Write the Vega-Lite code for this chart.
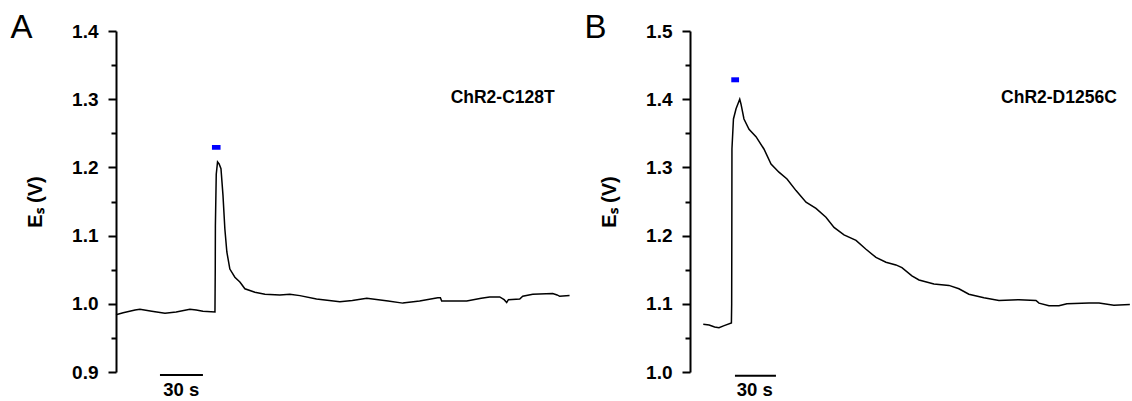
{
  "$schema": "https://vega.github.io/schema/vega-lite/v6.json",
  "background": "white",
  "padding": {"left": 10, "top": 12, "right": 0, "bottom": 0},
  "spacing": 11,
  "config": {
    "view": {"stroke": null},
    "font": "Liberation Sans",
    "axisY": {
      "grid": false,
      "domainColor": "black",
      "domainWidth": 2,
      "tickColor": "black",
      "tickWidth": 2,
      "labelFont": "Liberation Sans",
      "labelFontWeight": "bold",
      "labelFontSize": 19,
      "labelColor": "black",
      "labelPadding": 10,
      "labelOverlap": false,
      "labelBound": false,
      "titleFont": "Liberation Sans",
      "titleFontWeight": "bold",
      "titleFontSize": 20,
      "titleColor": "black",
      "titlePadding": 26
    },
    "title": {
      "anchor": "start",
      "frame": "bounds",
      "font": "Liberation Sans",
      "fontSize": 33,
      "fontWeight": "normal",
      "color": "black",
      "dx": -15,
      "offset": -23
    }
  },
  "datasets": {
    "traceA": [
      {"t": 0, "v": 0.984}, {"t": 5, "v": 0.987}, {"t": 13.3, "v": 0.991}, {"t": 16.7, "v": 0.992},
      {"t": 25, "v": 0.989}, {"t": 34.2, "v": 0.986}, {"t": 42, "v": 0.988}, {"t": 51.6, "v": 0.992},
      {"t": 56, "v": 0.991}, {"t": 60.7, "v": 0.989}, {"t": 69.1, "v": 0.988}, {"t": 69.3, "v": 1.05},
      {"t": 69.4, "v": 1.115}, {"t": 70, "v": 1.19}, {"t": 70.9, "v": 1.208}, {"t": 72, "v": 1.205},
      {"t": 73.3, "v": 1.198}, {"t": 74.7, "v": 1.159}, {"t": 76, "v": 1.11}, {"t": 77.4, "v": 1.076},
      {"t": 79.5, "v": 1.051}, {"t": 83, "v": 1.039}, {"t": 86.5, "v": 1.032}, {"t": 90, "v": 1.022},
      {"t": 97, "v": 1.017}, {"t": 104, "v": 1.014}, {"t": 114.4, "v": 1.013}, {"t": 121.4, "v": 1.014},
      {"t": 128.4, "v": 1.012}, {"t": 140, "v": 1.007}, {"t": 156.3, "v": 1.003}, {"t": 165, "v": 1.005},
      {"t": 175.1, "v": 1.008}, {"t": 190, "v": 1.004}, {"t": 200.2, "v": 1.001}, {"t": 212, "v": 1.004},
      {"t": 224.7, "v": 1.009}, {"t": 226.5, "v": 1.009}, {"t": 227.4, "v": 1.004}, {"t": 244.9, "v": 1.004},
      {"t": 255, "v": 1.008}, {"t": 260.9, "v": 1.01}, {"t": 267.9, "v": 1.01}, {"t": 271, "v": 1.006},
      {"t": 272.8, "v": 1.002}, {"t": 274, "v": 1.006}, {"t": 281.9, "v": 1.007}, {"t": 284, "v": 1.011},
      {"t": 291, "v": 1.014}, {"t": 304.9, "v": 1.015}, {"t": 308, "v": 1.013}, {"t": 309.8, "v": 1.011},
      {"t": 316.7, "v": 1.012}
    ],
    "traceB": [
      {"t": 9.7, "v": 1.07}, {"t": 14, "v": 1.069}, {"t": 18, "v": 1.066}, {"t": 21.2, "v": 1.065},
      {"t": 25, "v": 1.068}, {"t": 30.3, "v": 1.072}, {"t": 30.5, "v": 1.1}, {"t": 30.6, "v": 1.2},
      {"t": 30.7, "v": 1.327}, {"t": 31.8, "v": 1.371}, {"t": 33.7, "v": 1.386}, {"t": 36.4, "v": 1.4},
      {"t": 37.3, "v": 1.393}, {"t": 39.5, "v": 1.371}, {"t": 43.2, "v": 1.356}, {"t": 48.3, "v": 1.345},
      {"t": 54.1, "v": 1.327}, {"t": 59.3, "v": 1.305}, {"t": 65.1, "v": 1.293}, {"t": 71, "v": 1.283},
      {"t": 77.6, "v": 1.266}, {"t": 84.9, "v": 1.249}, {"t": 92.2, "v": 1.24}, {"t": 99.5, "v": 1.227},
      {"t": 105.4, "v": 1.212}, {"t": 112.7, "v": 1.201}, {"t": 121.5, "v": 1.193}, {"t": 128.8, "v": 1.18},
      {"t": 136.1, "v": 1.168}, {"t": 143.4, "v": 1.161}, {"t": 150.7, "v": 1.157}, {"t": 155.1, "v": 1.153},
      {"t": 162.4, "v": 1.141}, {"t": 167.6, "v": 1.135}, {"t": 178.5, "v": 1.129}, {"t": 189.5, "v": 1.127},
      {"t": 196.8, "v": 1.122}, {"t": 204.1, "v": 1.114}, {"t": 215.1, "v": 1.109}, {"t": 226.1, "v": 1.105},
      {"t": 240.7, "v": 1.106}, {"t": 253.2, "v": 1.105}, {"t": 255.4, "v": 1.101}, {"t": 262.7, "v": 1.097},
      {"t": 270, "v": 1.097}, {"t": 275.8, "v": 1.1}, {"t": 292, "v": 1.101}, {"t": 299.3, "v": 1.101},
      {"t": 310.2, "v": 1.098}, {"t": 321.9, "v": 1.099}
    ],
    "stimA": [{"t0": 67.0, "t1": 73.0, "v0": 1.226, "v1": 1.2328}],
    "stimB": [{"t0": 30.2, "t1": 35.9, "v0": 1.4248, "v1": 1.4321}],
    "barA": [{"t0": 30.7, "t1": 60.7, "v": 0.8956, "tm": 45.5, "vt": 0.8648, "label": "30 s"}],
    "barB": [{"t0": 32.9, "t1": 62.9, "v": 0.9946, "tm": 47.4, "vt": 0.9648, "label": "30 s"}],
    "nameA": [{"t": 270, "v": 1.302, "label": "ChR2-C128T"}],
    "nameB": [{"t": 270, "v": 1.402, "label": "ChR2-D1256C"}]
  },
  "hconcat": [
    {
      "title": {"text": "A"},
      "width": 454,
      "height": 341,
      "encoding": {
        "y": {
          "type": "quantitative",
          "scale": {"domain": [0.9, 1.4], "nice": false, "zero": false},
          "axis": {
            "title": "Eₛ (V)",
            "values": [0.9, 0.95, 1.0, 1.05, 1.1, 1.15, 1.2, 1.25, 1.3, 1.35, 1.4],
            "labelExpr": "round(datum.value * 100) % 10 == 0 ? format(datum.value, '.1f') : ''",
            "tickSize": {"condition": {"test": "round(datum.value * 100) % 10 == 0", "value": 8}, "value": 5}
          }
        }
      },
      "layer": [
        {
          "data": {"name": "traceA"},
          "mark": {"type": "line", "color": "black", "strokeWidth": 1.5},
          "encoding": {
            "x": {"field": "t", "type": "quantitative", "scale": {"domain": [0, 317], "nice": false, "zero": false}, "axis": null},
            "y": {"field": "v"}
          }
        },
        {
          "data": {"name": "stimA"},
          "mark": {"type": "rect", "color": "#0000ff"},
          "encoding": {
            "x": {"field": "t0", "type": "quantitative"},
            "x2": {"field": "t1"},
            "y": {"field": "v0"},
            "y2": {"field": "v1"}
          }
        },
        {
          "data": {"name": "barA"},
          "mark": {"type": "rule", "color": "black", "strokeWidth": 2},
          "encoding": {
            "x": {"field": "t0", "type": "quantitative"},
            "x2": {"field": "t1"},
            "y": {"field": "v"}
          }
        },
        {
          "data": {"name": "barA"},
          "mark": {"type": "text", "font": "Liberation Sans", "fontWeight": "bold", "fontSize": 18.5, "color": "black", "align": "center", "baseline": "alphabetic"},
          "encoding": {
            "x": {"field": "tm", "type": "quantitative"},
            "y": {"field": "vt"},
            "text": {"field": "label"}
          }
        },
        {
          "data": {"name": "nameA"},
          "mark": {"type": "text", "font": "Liberation Sans", "fontWeight": "bold", "fontSize": 17.5, "color": "black", "align": "center", "baseline": "middle"},
          "encoding": {
            "x": {"field": "t", "type": "quantitative"},
            "y": {"field": "v"},
            "text": {"field": "label"}
          }
        }
      ]
    },
    {
      "title": {"text": "B"},
      "width": 440,
      "height": 341,
      "encoding": {
        "y": {
          "type": "quantitative",
          "scale": {"domain": [1.0, 1.5], "nice": false, "zero": false},
          "axis": {
            "title": "Eₛ (V)",
            "values": [1.0, 1.05, 1.1, 1.15, 1.2, 1.25, 1.3, 1.35, 1.4, 1.45, 1.5],
            "labelExpr": "round(datum.value * 100) % 10 == 0 ? format(datum.value, '.1f') : ''",
            "tickSize": {"condition": {"test": "round(datum.value * 100) % 10 == 0", "value": 8}, "value": 5}
          }
        }
      },
      "layer": [
        {
          "data": {"name": "traceB"},
          "mark": {"type": "line", "color": "black", "strokeWidth": 1.5},
          "encoding": {
            "x": {"field": "t", "type": "quantitative", "scale": {"domain": [0, 322], "nice": false, "zero": false}, "axis": null},
            "y": {"field": "v"}
          }
        },
        {
          "data": {"name": "stimB"},
          "mark": {"type": "rect", "color": "#0000ff"},
          "encoding": {
            "x": {"field": "t0", "type": "quantitative"},
            "x2": {"field": "t1"},
            "y": {"field": "v0"},
            "y2": {"field": "v1"}
          }
        },
        {
          "data": {"name": "barB"},
          "mark": {"type": "rule", "color": "black", "strokeWidth": 2},
          "encoding": {
            "x": {"field": "t0", "type": "quantitative"},
            "x2": {"field": "t1"},
            "y": {"field": "v"}
          }
        },
        {
          "data": {"name": "barB"},
          "mark": {"type": "text", "font": "Liberation Sans", "fontWeight": "bold", "fontSize": 18.5, "color": "black", "align": "center", "baseline": "alphabetic"},
          "encoding": {
            "x": {"field": "tm", "type": "quantitative"},
            "y": {"field": "vt"},
            "text": {"field": "label"}
          }
        },
        {
          "data": {"name": "nameB"},
          "mark": {"type": "text", "font": "Liberation Sans", "fontWeight": "bold", "fontSize": 17.5, "color": "black", "align": "center", "baseline": "middle"},
          "encoding": {
            "x": {"field": "t", "type": "quantitative"},
            "y": {"field": "v"},
            "text": {"field": "label"}
          }
        }
      ]
    }
  ]
}
